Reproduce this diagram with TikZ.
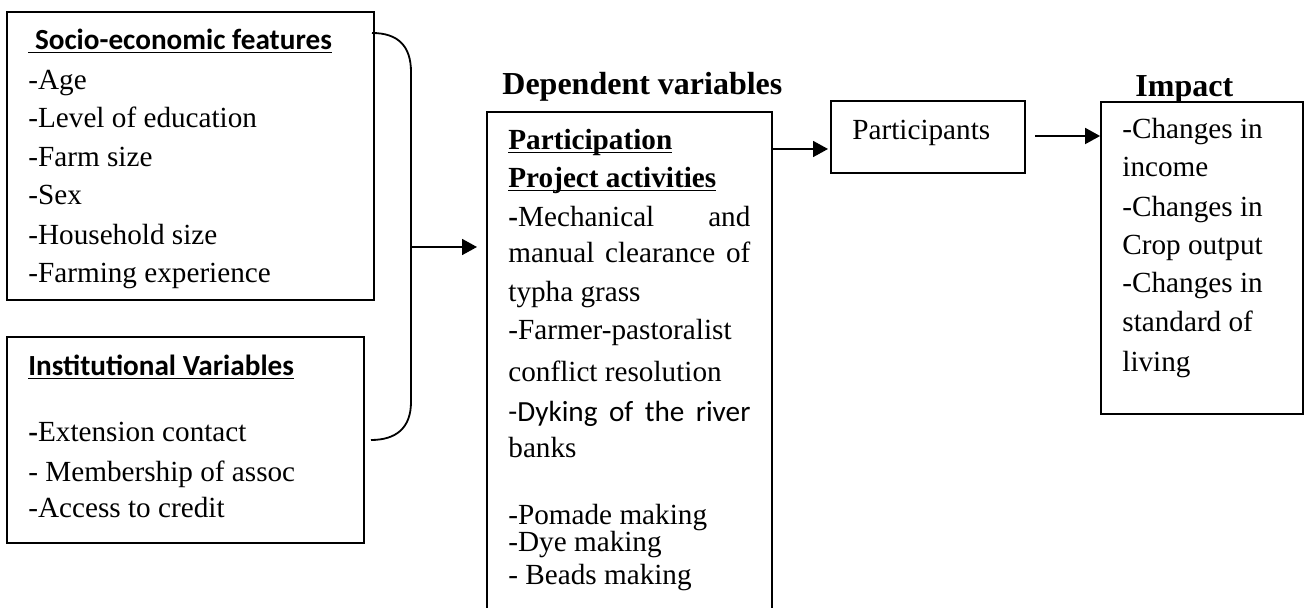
\documentclass[tikz,border=0pt]{standalone}
\usepackage{fontspec}
\setmainfont{Liberation Serif}
\newfontfamily\calib{Carlito}
\usetikzlibrary{arrows.meta,fit}
\newcommand\myul[1]{\setbox0\hbox{#1}\rlap{\rule[-1.6pt]{\wd0}{0.8pt}}\box0}
\begin{document}
\begin{tikzpicture}[x=0.5pt,y=-0.5pt,
 box/.style={draw, line width=0.9pt, inner sep=0pt, rectangle},
 txt/.style={anchor=base west, inner sep=0pt, font=\fontsize{14.6}{18}\selectfont},
 hdr/.style={anchor=base west, inner sep=0pt, font=\fontsize{16}{19}\selectfont\bfseries},
 conn/.style={line width=0.9pt},
 arr/.style={line width=0.9pt, -{Triangle[length=7.5pt,width=8pt]}}]
\useasboundingbox (0,0) rectangle (1307,608);
\clip (0,0) rectangle (1307,608);
% boxes
\node[box, fit={(7,12) (374,300)}] (socio) {};
\node[box, fit={(7,337) (364,543)}] (inst) {};
\node[box, fit={(487,112) (772,614)}] (dep) {};
\node[box, fit={(831,101) (1025,173)}] (part) {};
\node[box, fit={(1101,102) (1303,414)}] (impact) {};
% socio text
\node[txt] (s0) at (28,50) {\calib\bfseries\myul{\ Socio-economic features}};
\node[txt] (s1) at (28,90) {-Age};
\node[txt] (s2) at (28,128) {-Level of education};
\node[txt] (s3) at (28,167) {-Farm size};
\node[txt] (s4) at (28,205) {-Sex};
\node[txt] (s5) at (28,245) {-Household size};
\node[txt] (s6) at (28,283) {-Farming experience};
% institutional text
\node[txt] (i0) at (28,376) {\calib\bfseries\myul{Institutional Variables}};
\node[txt] (i1) at (28,442) {\textbf{-}Extension contact};
\node[txt] (i2) at (28,482) {- Membership of assoc};
\node[txt] (i3) at (28,518) {-Access to credit};
% dependent
\node[hdr] (dh) at (502,95) {Dependent variables};
\node[txt] (d1) at (508,150) {\bfseries\myul{Participation}};
\node[txt] (d2) at (508,188) {\bfseries\myul{Project activities}};
\node[txt] (d3) at (508,227) {\hbox to 121pt{\textbf{-}Mechanical\hfill and}};
\node[txt] (d4) at (508,263) {\hbox to 121pt{manual\hfill clearance\hfill of}};
\node[txt] (d5) at (508,302) {typha grass};
\node[txt] (d6) at (508,340) {-Farmer-pastoralist};
\node[txt] (d7) at (508,382) {conflict resolution};
\node[txt] (d8) at (508,422) {\calib\hbox to 121pt{-Dyking\hfill of\hfill the\hfill river}};
\node[txt] (d9) at (508,458) {banks};
\node[txt] (d10) at (508,525) {-Pomade making};
\node[txt] (d11) at (508,552) {-Dye making};
\node[txt] (d12) at (508,585) {- Beads making};
% participants
\node[txt] (pt) at (852,140) {Participants};
% impact
\node[hdr] (ih) at (1135,97) {Impact};
\node[txt] (m1) at (1122,139) {-Changes in};
\node[txt] (m2) at (1122,177) {income};
\node[txt] (m3) at (1122,217) {-Changes in};
\node[txt] (m4) at (1122,255) {Crop output};
\node[txt] (m5) at (1122,293) {-Changes in};
\node[txt] (m6) at (1122,332) {standard of};
\node[txt] (m7) at (1122,372) {living};
% connectors
\coordinate (b1) at (372,33);
\coordinate (b2) at (371,440);
\coordinate (j) at (411,247);
\coordinate (jt) at (477,247);
\draw[conn] (b1) .. controls (398,33) and (411,46) .. (411,72) -- (411,402) .. controls (411,428) and (396,440) .. (b2);
\draw[arr] (j) -- (jt);
\coordinate (p1) at (828,149);
\draw[arr] (dep.east |- p1) -- (p1);
\coordinate (q1) at (1035,136);
\draw[arr] (q1) -- (impact.west |- q1);
\end{tikzpicture}
\end{document}
